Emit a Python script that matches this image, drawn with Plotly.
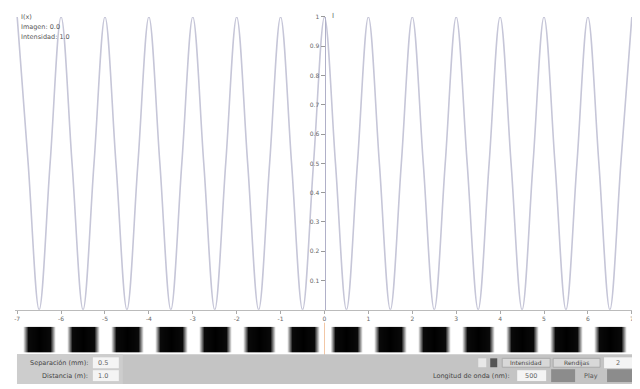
import plotly.graph_objects as go

# ---- data ----
# sample positions (in interference orders) and intensity at each sample
pos = [-7.0, -6.75, -6.5, -6.25, -6.0, -5.75, -5.5, -5.25, -5.0, -4.75, -4.5, -4.25,
       -4.0, -3.75, -3.5, -3.25, -3.0, -2.75, -2.5, -2.25, -2.0, -1.75, -1.5, -1.25,
       -1.0, -0.75, -0.5, -0.25, 0.0, 0.25, 0.5, 0.75, 1.0, 1.25, 1.5, 1.75,
       2.0, 2.25, 2.5, 2.75, 3.0, 3.25, 3.5, 3.75, 4.0, 4.25, 4.5, 4.75,
       5.0, 5.25, 5.5, 5.75, 6.0, 6.25, 6.5, 6.75, 7.0]
intensity = [1.0, 0.5, 0.0, 0.5, 1.0, 0.5, 0.0, 0.5, 1.0, 0.5, 0.0, 0.5,
             1.0, 0.5, 0.0, 0.5, 1.0, 0.5, 0.0, 0.5, 1.0, 0.5, 0.0, 0.5,
             1.0, 0.5, 0.0, 0.5, 1.0, 0.5, 0.0, 0.5, 1.0, 0.5, 0.0, 0.5,
             1.0, 0.5, 0.0, 0.5, 1.0, 0.5, 0.0, 0.5, 1.0, 0.5, 0.0, 0.5,
             1.0, 0.5, 0.0, 0.5, 1.0, 0.5, 0.0, 0.5, 1.0]
x_ticks = [-7, -6, -5, -4, -3, -2, -1, 0, 1, 2, 3, 4, 5, 6, 7]
x_tick_labels = ["-7", "-6", "-5", "-4", "-3", "-2", "-1", "0", "1", "2", "3", "4", "5", "6", "7"]
y_ticks = [0.1, 0.2, 0.3, 0.4, 0.5, 0.6, 0.7, 0.8, 0.9, 1.0]
y_tick_labels = ["0.1", "0.2", "0.3", "0.4", "0.5", "0.6", "0.7", "0.8", "0.9", "1"]
legend_lines = ["I(x)", "Imagen: 0.0", "Intensidad: 1.0"]
row1_label, row1_value = "Separación (mm):", "0.5"
row2_label, row2_value = "Distancia (m):", "1.0"
wave_label, wave_value = "Longitud de onda (nm):", "500"
slits_label, slits_value = "Rendijas", "2"

# the page body has an 8px margin, so the figure is drawn 8px in from the window corner
OFF = 8
W, H = 640 - OFF, 389 - OFF
def px(x): return (x - OFF) / W
def py(y): return 1 - (y - OFF) / H

fig = go.Figure()

fig.add_trace(go.Scatter(
    x=pos, y=intensity, mode="lines", line=dict(color="#c6c6d8", width=1.6, shape="spline"),
    hoverinfo="skip", xaxis="x", yaxis="y"))

fig.add_trace(go.Heatmap(
    x=pos, y=[0, 1], z=[intensity, intensity], zsmooth="best", showscale=False,
    colorscale=[[0, "#000000"], [0.5, "#0a0a0a"], [0.74, "#ffffff"], [1, "#ffffff"]],
    zmin=0, zmax=1, xaxis="x2", yaxis="y2", hoverinfo="skip"))

xr = [-7.05, 7.05]
fig.update_layout(
    width=W, height=H, margin=dict(l=0, r=0, t=0, b=0),
    paper_bgcolor="white", plot_bgcolor="white", showlegend=False,
    font=dict(family="DejaVu Sans", size=7, color="#666"),
    xaxis=dict(domain=[px(14), px(634)], range=xr, anchor="y", showgrid=False, zeroline=False,
               showline=True, linecolor="#bbbbbb", linewidth=1,
               tickmode="array", tickvals=x_ticks, ticktext=x_tick_labels,
               ticks="outside", ticklen=3, tickcolor="#aaaaaa",
               tickfont=dict(size=6, color="#666")),
    yaxis=dict(domain=[py(309), py(13)], range=[0, 1.0], anchor="free", position=px(324),
               showgrid=False, zeroline=False, showline=True, linecolor="#b0b0c8", linewidth=1,
               tickmode="array", tickvals=y_ticks, ticktext=y_tick_labels,
               ticks="outside", ticklen=4, tickcolor="#999999",
               tickfont=dict(size=6, color="#666")),
    xaxis2=dict(domain=[px(14), px(634)], range=xr, anchor="y2", visible=False),
    yaxis2=dict(domain=[py(352), py(326)], range=[-0.5, 1.5], visible=False),
)

shapes = []
ann = []

def text(x, y, t, xanchor="center", size=6.5, color="#444"):
    ann.append(dict(x=px(x), y=py(y), xref="paper", yref="paper", text=t, showarrow=False,
                    xanchor=xanchor, yanchor="middle", font=dict(size=size, color=color)))

# orange centre marker line
shapes.append(dict(type="line", xref="paper", yref="paper", x0=px(324), x1=px(324),
                   y0=py(322), y1=py(356), line=dict(color="#f2c7a6", width=1)))
text(330, 12, "I", xanchor="left", size=7, color="#666")

# legend text top-left
for i, t in enumerate(legend_lines):
    text(18, 13 + 10 * i, t, xanchor="left", size=6.5, color="#555")

# control panel
def rect(x0, y0, x1, y1, fill, line="rgba(0,0,0,0)"):
    shapes.append(dict(type="rect", xref="paper", yref="paper", x0=px(x0), x1=px(x1),
                       y0=py(y1), y1=py(y0), fillcolor=fill, line=dict(color=line, width=1),
                       layer="above"))

rect(16, 354, 634, 384, "#c4c4c4")
rect(16, 354, 122, 384, "#cdcdcd")
rect(92, 357, 118, 368, "#f4f4f4")
rect(92, 370, 118, 381, "#f4f4f4")
text(89, 362.5, row1_label, xanchor="right")
text(89, 375.5, row2_label, xanchor="right")
text(95, 362.5, row1_value, xanchor="left", color="#666")
text(95, 375.5, row2_value, xanchor="left", color="#666")

# right side row 1
rect(478, 358, 486, 367, "#e8e8e8")
rect(490, 358, 497, 367, "#555555")
rect(502, 358, 550, 367, "#d8d8d8", "#aaaaaa")
text(526, 362.5, "Intensidad", size=6)
rect(553, 358, 600, 367, "#d8d8d8", "#aaaaaa")
text(576.5, 362.5, slits_label, size=6)
rect(604, 357, 632, 368, "#f4f4f4")
text(618, 362.5, slits_value, color="#666")

# right side row 2
text(512, 375.5, wave_label, xanchor="right")
rect(517, 370, 546, 381, "#f4f4f4")
text(531, 375.5, wave_value, color="#666")
rect(551, 369, 575, 382, "#8c8c8c")
text(591, 375.5, "Play", color="#555")
rect(607, 369, 633, 382, "#8c8c8c")

fig.update_layout(shapes=shapes, annotations=ann)
fig.write_html("out.html")
